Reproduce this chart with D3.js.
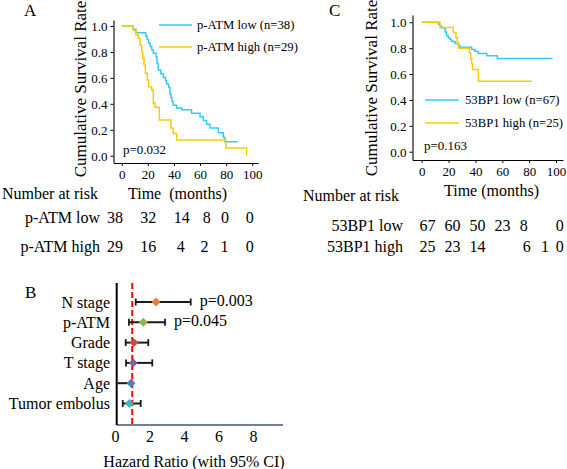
<!DOCTYPE html>
<html><head><meta charset="utf-8">
<script src="https://cdn.jsdelivr.net/npm/d3@7"></script>
<style>
body{margin:0;background:#fff}
svg{display:block;font-family:"Liberation Serif","Times New Roman",serif}
</style>
</head><body>
<svg id="c" width="567" height="469"></svg>
<script>
// ---------------- DATA ----------------
// Panel A: p-ATM Kaplan-Meier steps (months, survival)
const atmLowTime = [0, 8.9, 10.9, 18.4, 19.5, 20.6, 21.7, 23, 24.2, 26.3, 27, 28, 30, 31.9, 33.5, 34.4, 36, 37, 37.8, 38.5, 39.5, 42, 46, 53.5, 60, 62.5, 65, 67.6, 74, 77.8, 79, 88.8];
const atmLowSurv = [1, 0.974, 0.947, 0.921, 0.895, 0.868, 0.842, 0.816, 0.789, 0.763, 0.71, 0.66, 0.632, 0.605, 0.58, 0.553, 0.526, 0.474, 0.447, 0.42, 0.39, 0.368, 0.355, 0.327, 0.30, 0.272, 0.243, 0.213, 0.178, 0.142, 0.107, 0.107];
const atmHighTime = [0, 8.9, 10.9, 12.7, 14, 15.3, 16.1, 17.1, 18.1, 19.6, 20.6, 23, 24.2, 25.5, 28.8, 37.7, 39.5, 42.1, 79.9, 95.7];
const atmHighSurv = [1, 0.966, 0.931, 0.905, 0.853, 0.802, 0.75, 0.70, 0.635, 0.584, 0.532, 0.507, 0.404, 0.373, 0.275, 0.211, 0.172, 0.121, 0.06, 0.0];
const atmLegend = ["p-ATM low (n=38)", "p-ATM high (n=29)"];
const atmP = "p=0.032";
const atmRiskLabels = ["p-ATM low", "p-ATM high"];
const atmRiskLow = [38, 32, 14, 8, 0, 0];
const atmRiskHigh = [29, 16, 4, 2, 1, 0];

// Panel C: 53BP1 Kaplan-Meier steps
const bpLowTime = [0, 12.4, 13.6, 14.9, 17.4, 18.6, 19.8, 21.1, 22.3, 24.8, 27.3, 28.5, 37.2, 39.7, 42.2, 48.4, 56.3, 97.5];
const bpLowSurv = [1, 0.985, 0.97, 0.955, 0.925, 0.896, 0.881, 0.866, 0.851, 0.836, 0.821, 0.806, 0.79, 0.774, 0.758, 0.741, 0.72, 0.72];
const bpHighTime = [0, 13.6, 23.5, 25.5, 26.5, 27.5, 35.5, 36.5, 37.2, 37.9, 42.2, 82];
const bpHighSurv = [1, 0.96, 0.92, 0.88, 0.84, 0.80, 0.76, 0.72, 0.68, 0.636, 0.545, 0.545];
const bpLegend = ["53BP1 low (n=67)", "53BP1 high (n=25)"];
const bpP = "p=0.163";
const bpRiskLabels = ["53BP1 low", "53BP1 high"];
const bpRiskLow = [67, 60, 50, 23, 8, 0];
const bpRiskHigh = [25, 23, 14, 6, 1, 0];

// Shared KM axis ticks
const kmYTicks = [0, 0.2, 0.4, 0.6, 0.8, 1.0];
const kmXTicks = [0, 20, 40, 60, 80, 100];

// Panel B: forest plot
const fpCategories = ["N stage", "p-ATM", "Grade", "T stage", "Age", "Tumor embolus"];
const fpHR = [2.38, 1.64, 1.10, 1.06, 0.93, 0.83];
const fpLower = [1.20, 0.81, 0.62, 0.64, 0.10, 0.45];
const fpUpper = [4.39, 2.90, 1.93, 2.16, 0.98, 1.49];
const fpPText = ["p=0.003", "p=0.045", "", "", "", ""];
const fpXTicks = [0, 2, 4, 6, 8];

// ---------------- STYLE / LAYOUT ----------------
const CYAN = "#33CCFF", YELLOW = "#FFCC00";
const fpColors = ["#ED7D31", "#8DB84A", "#C0504D", "#8064A2", "#4F81BD", "#4BACC6"];

const svg = d3.select("#c");

function kmPanel(o) {
  const x = d3.scaleLinear().domain(o.xDom).range(o.xRange);
  const y = d3.scaleLinear().domain(o.yDom).range(o.yRange);
  const g = svg.append("g");
  // axes
  const ya = g.append("g").attr("transform", `translate(${o.xRange[0]},0)`)
    .call(d3.axisLeft(y).tickValues(kmYTicks).tickFormat(d3.format(".1f")).tickSize(3).tickSizeOuter(0).tickPadding(3));
  const xa = g.append("g").attr("transform", `translate(0,${o.yRange[0]})`)
    .call(d3.axisBottom(x).tickValues(kmXTicks).tickSize(3).tickSizeOuter(0).tickPadding(3));
  [ya, xa].forEach(a => {
    a.selectAll("text").attr("font-size", 13).attr("fill", "#000").attr("font-family", "Liberation Serif, serif");
    a.select(".domain").attr("stroke", "#000").attr("stroke-width", 1.1);
    a.selectAll(".tick line").attr("stroke", "#000");
  });
  ya.selectAll("text").attr("dy", null).attr("dominant-baseline", "central");
  xa.selectAll("text").attr("dy", null).attr("y", o.xLabelOff).attr("dominant-baseline", "central");
  // curves
  const line = d3.line().x(d => x(d[0])).y(d => y(d[1])).curve(d3.curveStepAfter);
  o.series.forEach(s => {
    const pts = s.t.map((t, i) => [t, s.s[i]]);
    g.append("path").datum(pts).attr("d", line).attr("fill", "none")
      .attr("stroke", s.color).attr("stroke-width", 1.5);
  });
  // legend
  o.series.forEach((s, i) => {
    const ly = o.legY[i];
    g.append("line").attr("x1", o.legX[0]).attr("x2", o.legX[1]).attr("y1", ly).attr("y2", ly)
      .attr("stroke", s.color).attr("stroke-width", 1.5);
    g.append("text").attr("x", o.legX[2]).attr("y", ly).attr("dominant-baseline", "central")
      .attr("font-size", 12.7).text(s.label);
  });
  // p value
  g.append("text").attr("x", o.pPos[0]).attr("y", o.pPos[1]).attr("dominant-baseline", "central")
    .attr("font-size", 13).text(o.p);
  // y title
  g.append("text").attr("transform", `translate(${o.yTitle[0]},${o.yTitle[1]}) rotate(-90)`)
    .attr("text-anchor", "middle").attr("dominant-baseline", "central").attr("font-size", 17)
    .text("Cumulative Survival Rate");
  // panel letter
  g.append("text").attr("x", o.letter[0]).attr("y", o.letter[1]).attr("font-size", 17).text(o.letterText);
  // risk table
  g.append("text").attr("x", o.nar[0]).attr("y", o.nar[1]).attr("dominant-baseline", "central")
    .attr("font-size", 16).text("Number at risk");
  g.append("text").attr("x", o.time[0]).attr("y", o.time[1]).attr("dominant-baseline", "central")
    .attr("text-anchor", "middle").attr("font-size", 16).style("white-space", "pre").text(o.timeText);
  o.risk.forEach((r, i) => {
    g.append("text").attr("x", o.riskLabelX).attr("y", o.riskY[i]).attr("text-anchor", "end")
      .attr("dominant-baseline", "central").attr("font-size", 16).text(r.label);
    g.selectAll(null).data(r.vals).enter().append("text")
      .attr("x", (d, j) => r.cols[j]).attr("y", o.riskY[i]).attr("text-anchor", "middle")
      .attr("dominant-baseline", "central").attr("font-size", 16).text(d => d);
  });
}

kmPanel({
  xDom: [-6.3, 104.4], xRange: [113.5, 258],
  yDom: [-0.056, 1.046], yRange: [163, 20],
  xLabelOff: 11,
  series: [
    {t: atmLowTime, s: atmLowSurv, color: CYAN, label: atmLegend[0]},
    {t: atmHighTime, s: atmHighSurv, color: YELLOW, label: atmLegend[1]}
  ],
  legX: [159, 192, 197], legY: [25, 47],
  p: atmP, pPos: [123, 149.5],
  yTitle: [80, 89], letter: [24, 15.5], letterText: "A",
  nar: [2, 193], time: [177.5, 193], timeText: "Time  (months)",
  riskLabelX: 100, riskY: [217.7, 246],
  risk: [
    {label: atmRiskLabels[0], vals: atmRiskLow, cols: [115, 148.3, 181.7, 206.7, 225, 249.7]},
    {label: atmRiskLabels[1], vals: atmRiskHigh, cols: [115, 148.3, 180.8, 204.5, 224.5, 249.7]}
  ]
});

kmPanel({
  xDom: [-6.85, 105.2], xRange: [412.5, 563],
  yDom: [-0.064, 1.056], yRange: [160, 15],
  xLabelOff: 11.5,
  series: [
    {t: bpLowTime, s: bpLowSurv, color: CYAN, label: bpLegend[0]},
    {t: bpHighTime, s: bpHighSurv, color: YELLOW, label: bpLegend[1]}
  ],
  legX: [425, 459, 465], legY: [100, 123],
  p: bpP, pPos: [424, 145],
  yTitle: [371, 88], letter: [329, 15.5], letterText: "C",
  nar: [303, 195], time: [491.5, 190], timeText: "Time (months)",
  riskLabelX: 403, riskY: [225, 246],
  risk: [
    {label: bpRiskLabels[0], vals: bpRiskLow, cols: [427.5, 452.5, 477.5, 502.5, 523.7, 559.7]},
    {label: bpRiskLabels[1], vals: bpRiskHigh, cols: [427.5, 452.5, 477.5, 526.7, 545, 559.7]}
  ]
});

// ---------------- FOREST PLOT (B) ----------------
(function () {
  const g = svg.append("g");
  const x = d3.scaleLinear().domain([0, 10]).range([115, 287.5]);
  const y = d3.scalePoint().domain(fpCategories).range([302, 403.5]);
  const axX0 = 116.7, axY0 = 283, axY1 = 425;

  // reference line at HR = 1
  g.append("line").attr("x1", x(1)).attr("x2", x(1)).attr("y1", axY0).attr("y2", axY1)
    .attr("stroke", "#FF0000").attr("stroke-width", 2).attr("stroke-dasharray", "6,3");

  // x axis (labels only via d3 axis) + colored line
  const xa = g.append("g").attr("transform", `translate(0,${axY1})`)
    .call(d3.axisBottom(x).tickValues(fpXTicks).tickSize(0).tickPadding(0));
  xa.select(".domain").remove();
  xa.selectAll("text").attr("font-size", 16).attr("fill", "#000").attr("font-family", "Liberation Serif, serif")
    .attr("dy", null).attr("y", 11.5).attr("dominant-baseline", "central");
  g.append("line").attr("x1", axX0).attr("x2", 283).attr("y1", axY1).attr("y2", axY1)
    .attr("stroke", "#44546A").attr("stroke-width", 1.5);
  g.append("line").attr("x1", axX0).attr("x2", axX0).attr("y1", axY0).attr("y2", axY1)
    .attr("stroke", "#000").attr("stroke-width", 2);

  // CI whiskers
  const rows = fpCategories.map((c, i) => ({c, hr: fpHR[i], lo: fpLower[i], hi: fpUpper[i], p: fpPText[i], col: fpColors[i]}));
  const r = g.selectAll(".row").data(rows).enter().append("g");
  r.append("line").attr("x1", d => Math.max(x(d.lo), axX0 + 1)).attr("x2", d => x(d.hi))
    .attr("y1", d => y(d.c)).attr("y2", d => y(d.c)).attr("stroke", "#1a1a1a").attr("stroke-width", 2);
  r.filter(d => x(d.lo) > axX0 + 2).append("line").attr("x1", d => x(d.lo)).attr("x2", d => x(d.lo))
    .attr("y1", d => y(d.c) - 3.5).attr("y2", d => y(d.c) + 3.5).attr("stroke", "#1a1a1a").attr("stroke-width", 1.8);
  r.append("line").attr("x1", d => x(d.hi)).attr("x2", d => x(d.hi))
    .attr("y1", d => y(d.c) - 3.5).attr("y2", d => y(d.c) + 3.5).attr("stroke", "#1a1a1a").attr("stroke-width", 1.8);
  r.append("path").attr("d", d3.symbol().type(d3.symbolSquare).size(40))
    .attr("transform", d => `translate(${x(d.hr)},${y(d.c)}) rotate(45)`).attr("fill", d => d.col);
  r.append("text").attr("x", 110).attr("y", d => y(d.c)).attr("text-anchor", "end")
    .attr("dominant-baseline", "central").attr("font-size", 16).text(d => d.c);
  r.filter(d => d.p).append("text").attr("x", d => x(d.hi) + 9).attr("y", d => y(d.c) - 2)
    .attr("dominant-baseline", "central").attr("font-size", 16).text(d => d.p);

  g.append("text").attr("x", 194).attr("y", 461.5).attr("text-anchor", "middle")
    .attr("dominant-baseline", "central").attr("font-size", 16).text("Hazard Ratio (with 95% CI)");
  g.append("text").attr("x", 25).attr("y", 297.5).attr("font-size", 17).text("B");
})();
</script>
</body></html>
